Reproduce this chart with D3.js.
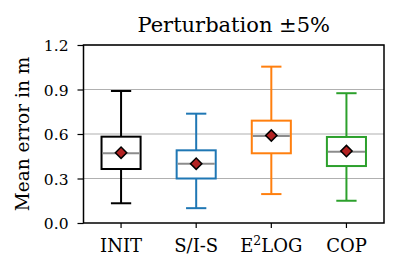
<!DOCTYPE html>
<html>
<head>
<meta charset="utf-8">
<script src="https://cdn.jsdelivr.net/npm/d3@7"></script>
<style>
body { margin: 0; background: #fff; }
</style>
</head>
<body>
<div id="chart"></div>
<script>
// data
var categories = ["INIT", "S/I-S", "E2LOG", "COP"];
var colors = ["#000000", "#1f77b4", "#ff7f0e", "#2ca02c"];
var whiskerLow = [0.133, 0.10, 0.195, 0.15];
var q1 = [0.364, 0.30, 0.47, 0.384];
var medians = [0.47, 0.40, 0.587, 0.48];
var q3 = [0.582, 0.49, 0.69, 0.58];
var whiskerHigh = [0.89, 0.737, 1.054, 0.875];
var means = [0.474, 0.40, 0.59, 0.485];
var yTicks = [0.0, 0.3, 0.6, 0.9, 1.2];

var FONT = "DejaVu Serif";

var margin = {top: 45, right: 15, bottom: 52, left: 83.5},
    width = 399 - margin.left - margin.right,
    height = 275 - margin.top - margin.bottom;

var svg = d3.select("#chart")
    .append("svg")
    .attr("width", 399)
    .attr("height", 275);

var g = svg.append("g")
    .attr("transform", "translate(" + margin.left + "," + margin.top + ")");

var x = d3.scaleBand()
    .domain(categories)
    .range([0, width]);

var y = d3.scaleLinear()
    .domain([0, 1.2])
    .range([height, 0]);

// grid lines
g.selectAll("gridline")
    .data(yTicks.slice(1))
    .enter()
    .append("line")
    .attr("x1", 0)
    .attr("x2", width)
    .attr("y1", function (d) { return y(d); })
    .attr("y2", function (d) { return y(d); })
    .attr("stroke", "#b0b0b0")
    .attr("stroke-width", 1.2);

var boxW = x.bandwidth() * 0.52;
var capW = x.bandwidth() * 0.27;

var rows = categories.map(function (c, i) {
    return {cat: c, i: i};
});

var box = g.selectAll("box")
    .data(rows)
    .enter()
    .append("g")
    .attr("transform", function (d) {
        return "translate(" + (x(d.cat) + x.bandwidth() / 2) + ",0)";
    });

// whiskers
box.append("line")
    .attr("x1", 0).attr("x2", 0)
    .attr("y1", function (d) { return y(whiskerLow[d.i]); })
    .attr("y2", function (d) { return y(q1[d.i]); })
    .attr("stroke", function (d) { return colors[d.i]; })
    .attr("stroke-width", 2);
box.append("line")
    .attr("x1", 0).attr("x2", 0)
    .attr("y1", function (d) { return y(q3[d.i]); })
    .attr("y2", function (d) { return y(whiskerHigh[d.i]); })
    .attr("stroke", function (d) { return colors[d.i]; })
    .attr("stroke-width", 2);

// caps
[whiskerLow, whiskerHigh].forEach(function (arr) {
    box.append("line")
        .attr("x1", -capW / 2).attr("x2", capW / 2)
        .attr("y1", function (d) { return y(arr[d.i]); })
        .attr("y2", function (d) { return y(arr[d.i]); })
        .attr("stroke", function (d) { return colors[d.i]; })
        .attr("stroke-width", 2);
});

// box
box.append("rect")
    .attr("x", -boxW / 2)
    .attr("width", boxW)
    .attr("y", function (d) { return y(q3[d.i]); })
    .attr("height", function (d) { return y(q1[d.i]) - y(q3[d.i]); })
    .attr("fill", "none")
    .attr("stroke", function (d) { return colors[d.i]; })
    .attr("stroke-width", 2);

// median
box.append("line")
    .attr("x1", -boxW / 2 + 1).attr("x2", boxW / 2 - 1)
    .attr("y1", function (d) { return y(medians[d.i]); })
    .attr("y2", function (d) { return y(medians[d.i]); })
    .attr("stroke", "#8c8c8c")
    .attr("stroke-width", 2);

// mean diamond
box.append("path")
    .attr("d", d3.symbol().type(d3.symbolSquare).size(64))
    .attr("transform", function (d) {
        return "translate(0," + y(means[d.i]) + ")rotate(45)";
    })
    .attr("fill", "#b22222")
    .attr("stroke", "#000")
    .attr("stroke-width", 1.5);

// axes
var yAxis = g.append("g")
    .call(d3.axisLeft(y).tickValues(yTicks).tickFormat(d3.format(".1f")).tickSize(6).tickPadding(9));
var xAxis = g.append("g")
    .attr("transform", "translate(0," + height + ")")
    .call(d3.axisBottom(x).tickSize(5).tickPadding(11));

[yAxis, xAxis].forEach(function (ax) {
    ax.attr("font-family", FONT);
    ax.select(".domain").remove();
    ax.selectAll("line").attr("stroke", "#000").attr("stroke-width", 1.2);
    ax.selectAll("text").attr("fill", "#000");
});
yAxis.attr("font-size", 15.5);
yAxis.selectAll(".tick text").attr("dy", "0.38em");
xAxis.attr("font-size", 18);

// x labels with superscript for E2LOG
xAxis.selectAll(".tick text").each(function (d) {
    var t = d3.select(this);
    if (d === "E2LOG") {
        t.text("");
        t.append("tspan").text("E");
        t.append("tspan").text("2").attr("font-size", 12.5).attr("dy", -6.5);
        t.append("tspan").text("LOG").attr("dy", 6.5);
    }
});

// frame
g.append("rect")
    .attr("width", width)
    .attr("height", height)
    .attr("fill", "none")
    .attr("stroke", "#000")
    .attr("stroke-width", 1.5);

// title
svg.append("text")
    .attr("x", margin.left + width / 2)
    .attr("y", 32)
    .attr("text-anchor", "middle")
    .attr("font-family", FONT)
    .attr("font-size", 21)
    .text("Perturbation \u00b15%");

// y label
svg.append("text")
    .attr("transform", "translate(28.5," + (margin.top + height / 2) + ")rotate(-90)")
    .attr("text-anchor", "middle")
    .attr("font-family", FONT)
    .attr("font-size", 18.5)
    .text("Mean error in m");
</script>
</body>
</html>
